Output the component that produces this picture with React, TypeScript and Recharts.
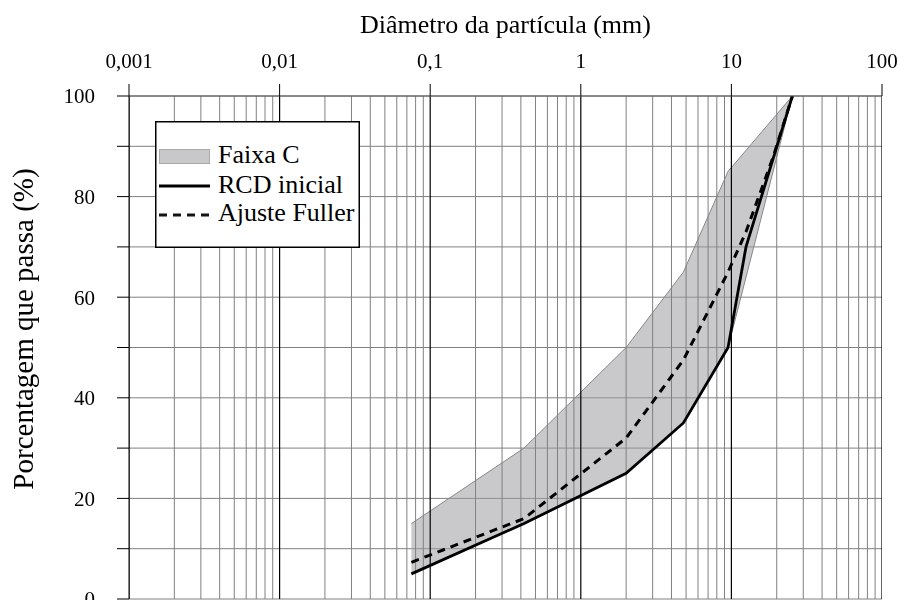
import React from 'react';
import {
  ComposedChart,
  Area,
  Line,
  XAxis,
  YAxis,
  CartesianGrid,
  ReferenceLine,
  Legend,
  Label,
} from 'recharts';

// Faixa C (band limits) per sieve size (mm)
const bandSizes = [0.075, 0.42, 2.0, 4.8, 9.5, 25.4];
const bandLower = [5, 15, 25, 35, 50, 100];
const bandUpper = [15, 30, 50, 65, 85, 100];

// RCD inicial
const rcdSizes = [0.075, 0.42, 2.0, 4.8, 9.5, 12.5, 25.4];
const rcdValues = [5, 15, 25, 35, 50, 70, 100];

// Ajuste Fuller
const fullerSizes = [0.075, 0.42, 2.0, 4.8, 9.5, 12.5, 19.0, 25.4];
const fullerValues = [7.3, 16, 32, 47.5, 65, 73, 88, 100];

const xMajorTicks = [0.001, 0.01, 0.1, 1, 10, 100];
const xMinorLines = [
  0.002, 0.003, 0.004, 0.005, 0.006, 0.007, 0.008, 0.009,
  0.02, 0.03, 0.04, 0.05, 0.06, 0.07, 0.08, 0.09,
  0.2, 0.3, 0.4, 0.5, 0.6, 0.7, 0.8, 0.9,
  2, 3, 4, 5, 6, 7, 8, 9,
  20, 30, 40, 50, 60, 70, 80, 90,
];
const yTicks = [0, 10, 20, 30, 40, 50, 60, 70, 80, 90, 100];
const yLabelledTicks = [0, 20, 40, 60, 80, 100];
const legendLabels = ['Faixa C', 'RCD inicial', 'Ajuste Fuller'];

const xTitle = 'Diâmetro da partícula (mm)';
const yTitle = 'Porcentagem que passa (%)';

const bandData = bandSizes.map((d, i) => ({ d, range: [bandLower[i], bandUpper[i]] }));
const rcdData = rcdSizes.map((d, i) => ({ d, p: rcdValues[i] }));
const fullerData = fullerSizes.map((d, i) => ({ d, p: fullerValues[i] }));

const FONT = '"Liberation Serif", "Times New Roman", serif';
const GRID = '#808080';

const renderLegend = () => (
  <svg width={205} height={127} style={{ display: 'block', fontFamily: FONT }}>
    <rect x={0.75} y={0.75} width={203.5} height={125.5} fill="#fff" stroke="#000" strokeWidth={1.5} />
    <rect x={4.5} y={28.5} width={50} height={14} fill="#c8c8cb" stroke="#aaa" strokeWidth={1} />
    <line x1={4} y1={65} x2={55} y2={65} stroke="#000" strokeWidth={2.8} />
    <line x1={4} y1={94} x2={55} y2={94} stroke="#1a1010" strokeWidth={2.8} strokeDasharray="8 6" />
    <text x={63} y={42.3} fontSize={26} fill="#000" fontFamily={FONT}>{legendLabels[0]}</text>
    <text x={63} y={71.7} fontSize={26} fill="#000" fontFamily={FONT}>{legendLabels[1]}</text>
    <text x={63} y={99.5} fontSize={26} fill="#000" fontFamily={FONT}>{legendLabels[2]}</text>
  </svg>
);

const fmtX = (v: number) => String(v).replace('.', ',');
const fmtY = (v: number) => (yLabelledTicks.includes(v) ? String(v) : '');

export default function App() {
  return (
    <div style={{ position: 'fixed', left: 0, top: 0 }}>
      <ComposedChart
        width={898}
        height={600}
        margin={{ top: 0, right: 16, bottom: 1, left: 0 }}
        style={{ fontFamily: FONT }}
      >
        <CartesianGrid horizontal vertical={false} stroke={GRID} strokeWidth={1} />
        {xMinorLines.map((v) => (
          <ReferenceLine key={'m' + v} x={v} stroke={GRID} strokeWidth={1} ifOverflow="hidden" />
        ))}
        {xMajorTicks.map((v) => (
          <ReferenceLine key={'M' + v} x={v} stroke="#000" strokeWidth={1.2} ifOverflow="hidden" />
        ))}
        <XAxis
          dataKey="d"
          type="number"
          scale="log"
          domain={[0.001, 100]}
          ticks={xMajorTicks}
          allowDataOverflow
          orientation="top"
          height={96}
          tickSize={12}
          tickMargin={16}
          tickFormatter={fmtX}
          tick={{ fontSize: 21, fill: '#000', fontFamily: FONT }}
          tickLine={{ stroke: '#000' }}
          axisLine={{ stroke: '#555' }}
          interval={0}
        >
          <Label
            content={() => (
              <text x={505.5} y={33.3} textAnchor="middle" fontSize={26} fill="#000" fontFamily={FONT}>
                {xTitle}
              </text>
            )}
          />
        </XAxis>
        <YAxis
          type="number"
          domain={[0, 100]}
          ticks={yTicks}
          allowDataOverflow
          width={129}
          tickSize={12}
          tickMargin={22}
          tickFormatter={fmtY}
          tick={{ fontSize: 21, fill: '#000', fontFamily: FONT }}
          tickLine={{ stroke: '#000' }}
          axisLine={{ stroke: '#000' }}
          interval={0}
        >
          <Label
            content={() => (
              <text
                x={32.5}
                y={329}
                transform="rotate(-90 32.5 329)"
                textAnchor="middle"
                fontSize={29}
                fill="#000"
                fontFamily={FONT}
              >
                {yTitle}
              </text>
            )}
          />
        </YAxis>
        <Area
          data={bandData}
          dataKey="range"
          type="linear"
          fill="#9d9da3"
          fillOpacity={0.55}
          stroke="#888"
          strokeWidth={1}
          isAnimationActive={false}
          dot={false}
          activeDot={false}
        />
        <Line
          data={fullerData}
          dataKey="p"
          type="linear"
          stroke="#000"
          strokeWidth={3}
          strokeDasharray="8 6"
          dot={false}
          activeDot={false}
          isAnimationActive={false}
        />
        <Line
          data={rcdData}
          dataKey="p"
          type="linear"
          stroke="#000"
          strokeWidth={2.8}
          dot={false}
          activeDot={false}
          isAnimationActive={false}
        />
        <Legend
          layout="horizontal"
          verticalAlign="middle"
          align="center"
          content={renderLegend}
          wrapperStyle={{ left: 155, top: 121, width: 205, height: 127 }}
        />
      </ComposedChart>
    </div>
  );
}
